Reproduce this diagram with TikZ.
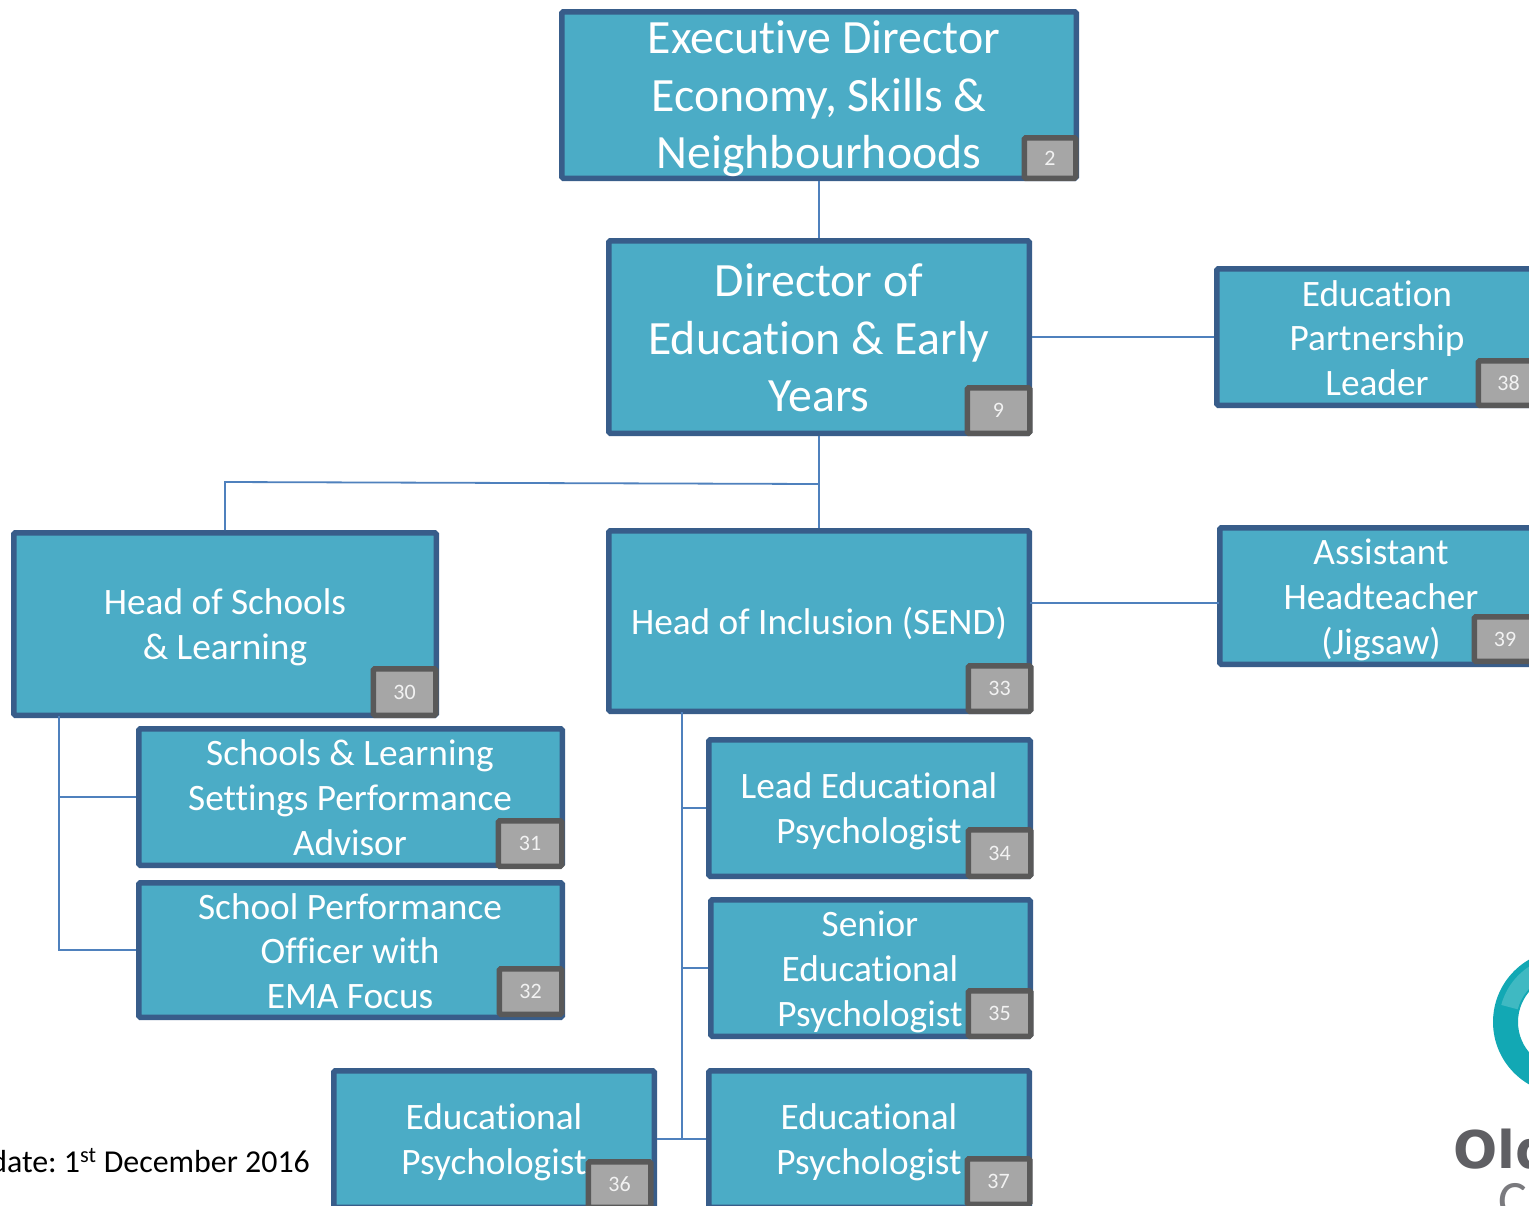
\documentclass[tikz,border=0pt]{standalone}
\usepackage{fontspec}
\usetikzlibrary{calc}
\setmainfont[Ligatures=NoCommon]{Carlito}
\newfontfamily\logosans{DejaVu Sans}
\tikzset{
  x=1pt,y=-1pt,
  orgbox/.style={draw=boxedge,fill=boxfill,line width=5.5pt,rounded corners=1.5pt,inner sep=0pt},
  badge/.style={draw=badgeedge,fill=badgefill,line width=5.5pt,rounded corners=1.5pt,inner sep=0pt,text=badgetext,font=\fontsize{22}{26}\selectfont},
  big/.style={text=white,align=center,inner sep=0pt,font=\fontsize{47.8}{57.4}\selectfont},
  mid/.style={text=white,align=center,inner sep=0pt,font=\fontsize{37.3}{44.8}\selectfont},
  link/.style={draw=linkblue,line width=1.8pt},
}
\definecolor{boxedge}{HTML}{385D8A}
\definecolor{boxfill}{HTML}{4BACC6}
\definecolor{badgeedge}{HTML}{595959}
\definecolor{badgefill}{HTML}{A6A6A6}
\definecolor{badgetext}{HTML}{F2F2F2}
\definecolor{linkblue}{HTML}{4F81BD}
\definecolor{ringteal}{HTML}{12A8B4}
\definecolor{ringlight}{HTML}{6CCBD0}
\definecolor{logogrey}{HTML}{5F5F63}
\definecolor{logolight}{HTML}{7A7A7E}
% outer pixel edges x1 y1 x2 y2
\newcommand\obox[5]{%
  \pgfmathsetmacro\ocx{(#2+#4)/2}\pgfmathsetmacro\ocy{(#3+#5)/2}%
  \pgfmathsetmacro\ow{#4-#2-5.5}\pgfmathsetmacro\oh{#5-#3-5.5}%
  \node[orgbox,minimum width=\ow pt,minimum height=\oh pt] (#1) at (\ocx,\ocy) {};}
\newcommand\obadge[6]{%
  \pgfmathsetmacro\ocx{(#2+#4)/2-0.5}\pgfmathsetmacro\ocy{(#3+#5)/2}%
  \pgfmathsetmacro\ow{#4-#2-5.5}\pgfmathsetmacro\oh{#5-#3-5.5}%
  \node[badge,minimum width=\ow pt,minimum height=\oh pt] (#1) at (\ocx,\ocy) {#6};}
\begin{document}
\begin{tikzpicture}
\useasboundingbox (0,0) rectangle (1529,1205);
\clip (0,0) rectangle (1529,1205);
\fill[white] (0,0) rectangle (1529,1205);

% logo
\coordinate (ringc) at (1565,1022);
\fill[ringteal,even odd rule] (ringc) circle[radius=72] (ringc) circle[radius=47];
\fill[ringlight,opacity=.5] ($(ringc)+(195:66)$) arc[start angle=195,end angle=240,radius=66]
  -- ($(ringc)+(240:49)$) arc[start angle=240,end angle=195,radius=49] -- cycle;
\node[text=logogrey,inner sep=0pt,anchor=base west,font=\logosans\bfseries\fontsize{52}{60}\selectfont] (logoa) at (1453.5,1168) {Old};
\node[text=logolight,inner sep=0pt,anchor=base west,font=\fontsize{54}{60}\selectfont] (logob) at (1498,1218) {C};

% boxes
\obox{exec}{559}{9}{1079}{181}
\obox{dir}{606}{238}{1032}{436}
\obox{edu}{1214}{266}{1540}{408}
\obox{asst}{1217}{525}{1545}{667}
\obox{hos}{11}{530}{439}{718}
\obox{incl}{606}{528}{1032}{714}
\obox{sl}{136}{726}{565}{868}
\obox{sp}{136}{880}{565}{1020}
\obox{lead}{706}{737}{1033}{879}
\obox{senior}{708}{897}{1033}{1039}
\obox{epa}{331}{1068}{657}{1210}
\obox{epb}{706}{1068}{1032}{1210}

% connectors
\coordinate (branch) at (819,484);
\coordinate (hostop) at (225,482);
\coordinate (inclout) at (1030,603);
\coordinate (asstin) at (1219,603);
\coordinate (hosdrop) at (59,716);
\coordinate (hoselbow) at (59,950);
\coordinate (sljoin) at (59,797);
\coordinate (incldrop) at (682,712);
\coordinate (inclend) at (682,1138);
\coordinate (leadjoin) at (682,808);
\coordinate (seniorjoin) at (682,968);
\draw[link] (exec.south) -- (dir.north);
\draw[link] (dir.east) -- (edu.west);
\draw[link] (dir.south) -- (incl.north);
\draw[link] (branch) -- (hostop) -- (hos.north);
\draw[link] (inclout) -- (asstin);
\draw[link] (hosdrop) -- (hoselbow) -- (sp.west);
\draw[link] (sljoin) -- (sl.west);
\draw[link] (incldrop) -- (inclend);
\draw[link] (leadjoin) -- (lead.west);
\draw[link] (seniorjoin) -- (senior.west);
\draw[link] (epa.east) -- (epb.west);

% labels
\node[big] (texec) at (819,99) {\kern10pt Executive Director\\Economy, Skills \&\\Neighbourhoods};
\node[big] (tdir) at (819,338) {Director of\\Education \& Early\\Years};
\node[mid] (tedu) at (1377,338) {Education\\Partnership\\Leader};
\node[mid] (tasst) at (1381,600) {Assistant\\Headteacher\\(Jigsaw)};
\node[mid] (thos) at (225,627.5) {Head of Schools\\\& Learning};
\node[mid] (tincl) at (819,623) {Head of Inclusion (SEND)};
\node[mid] (tsl) at (350,797.5) {Schools \& Learning\\Settings Performance\\Advisor};
\node[mid] (tsp) at (350,951) {School Performance\\Officer with\\EMA Focus};
\node[mid] (tlead) at (869,811.5) {Lead Educational\\Psychologist};
\node[mid] (tsenior) at (870,972) {Senior\\Educational\\Psychologist};
\node[mid] (tepa) at (494,1142.5) {Educational\\Psychologist};
\node[mid] (tepb) at (869,1142.5) {Educational\\Psychologist};

% badges
\obadge{b2}{1022}{135}{1079}{181}{2}
\obadge{b9}{965}{385}{1033}{436}{9}
\obadge{b38}{1476}{358}{1542}{408}{38}
\obadge{b39}{1472}{614}{1539}{664}{39}
\obadge{b30}{371}{666}{439}{718}{30}
\obadge{b33}{966}{663}{1034}{714}{33}
\obadge{b31}{496}{818}{565}{869}{31}
\obadge{b32}{497}{966}{565}{1017}{32}
\obadge{b34}{966}{827}{1034}{879}{34}
\obadge{b35}{966}{988}{1034}{1039}{35}
\obadge{b36}{586}{1159}{654}{1210}{36}
\obadge{b37}{965}{1156}{1033}{1207}{37}

% update text
\node[text=black,inner sep=0pt,anchor=base east,font=\fontsize{31.9}{36}\selectfont] (tdate) at (310,1172) {\frenchspacing date: 1\textsuperscript{st} December 2016};
\end{tikzpicture}
\end{document}
